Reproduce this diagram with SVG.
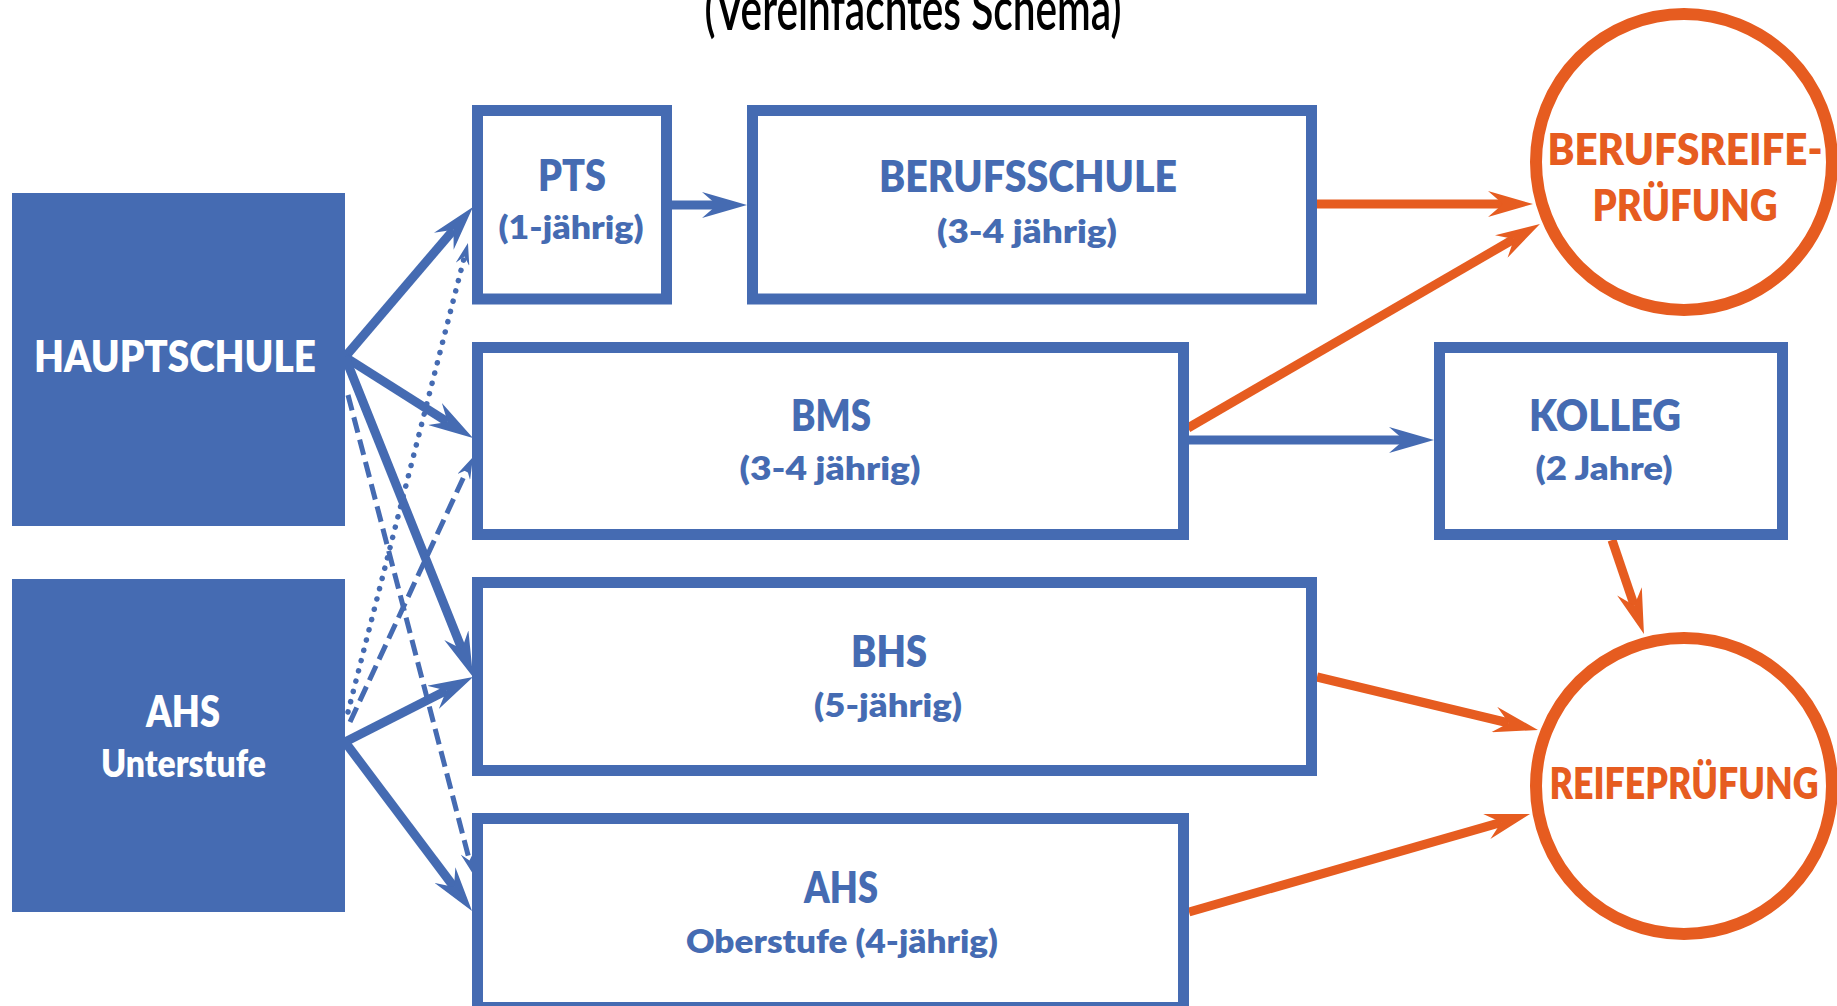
<svg xmlns="http://www.w3.org/2000/svg" width="1837" height="1006" viewBox="0 0 1837 1006">
<style>
.lbl{font-family:Lato,"Open Sans","Liberation Sans",sans-serif;font-weight:800;text-anchor:middle}
.blue{fill:#456BB2}
.white{fill:#ffffff}
.orange{fill:#E65C20}
.big{font-size:44px}
.sub{font-size:32px}
.box{fill:#ffffff;stroke:#456BB2;stroke-width:11}
.solid{fill:#456BB2}
.ring{fill:#ffffff;stroke:#E65C20;stroke-width:12}
.cb{stroke:#456BB2;stroke-width:9;fill:none}
.co{stroke:#E65C20;stroke-width:9;fill:none}
.dash{stroke:#456BB2;stroke-width:5;fill:none;stroke-dasharray:16 7}
.dot{stroke:#456BB2;stroke-width:5.5;fill:none;stroke-dasharray:0.1 10.5;stroke-linecap:round}
</style>
<defs>
<marker id="ab" markerUnits="userSpaceOnUse" orient="auto" refX="15" refY="13" markerWidth="45" markerHeight="26"><path d="M45,13 L0,0 L15,13 L0,26 Z" fill="#456BB2"/></marker>
<marker id="ao" markerUnits="userSpaceOnUse" orient="auto" refX="15" refY="13" markerWidth="45" markerHeight="26"><path d="M45,13 L0,0 L15,13 L0,26 Z" fill="#E65C20"/></marker>
<marker id="as" markerUnits="userSpaceOnUse" orient="auto" refX="8" refY="7" markerWidth="22" markerHeight="14"><path d="M22,7 L0,0 L8,7 L0,14 Z" fill="#456BB2"/></marker>
</defs>
<rect width="1837" height="1006" fill="#ffffff"/>
<text x="913" y="30" font-family="Lato,'Liberation Sans',sans-serif" font-size="60" font-weight="600" fill="#000" text-anchor="middle" textLength="417" lengthAdjust="spacingAndGlyphs">(Vereinfachtes  Schema)</text>

<g id="connectors">
<line class="cb" x1="345" y1="357" x2="453.5" y2="229.8" marker-end="url(#ab)"/>
<line class="cb" x1="345" y1="357" x2="447.6" y2="422" marker-end="url(#ab)"/>
<line class="cb" x1="345" y1="357" x2="461.9" y2="649.1" marker-end="url(#ab)"/>
<line class="cb" x1="345" y1="742" x2="446.3" y2="690.6" marker-end="url(#ab)"/>
<line class="cb" x1="345" y1="742" x2="454" y2="887" marker-end="url(#ab)"/>
<line class="cb" x1="672" y1="205" x2="717" y2="205" marker-end="url(#ab)"/>
<line class="cb" x1="1189" y1="440" x2="1404" y2="440" marker-end="url(#ab)"/>
<line class="dash" x1="348" y1="395" x2="469.5" y2="860.5" marker-end="url(#as)"/>
<line class="dash" x1="350" y1="722" x2="467.1" y2="469.7" marker-end="url(#as)"/>
<line class="dot" x1="348" y1="712" x2="464.5" y2="256.6" marker-end="url(#as)"/>
<line class="co" x1="1317" y1="204" x2="1503" y2="204" marker-end="url(#ao)"/>
<line class="co" x1="1188" y1="428" x2="1514" y2="239" marker-end="url(#ao)"/>
<line class="co" x1="1612" y1="540" x2="1634.3" y2="605.6" marker-end="url(#ao)"/>
<line class="co" x1="1317" y1="677" x2="1508.8" y2="723" marker-end="url(#ao)"/>
<line class="co" x1="1189" y1="912" x2="1501.2" y2="822.3" marker-end="url(#ao)"/>
</g>

<g id="hauptschule">
<rect class="solid" x="12" y="193" width="333" height="333"/>
<text class="lbl white big" x="175" y="372" font-size="46" textLength="282" lengthAdjust="spacingAndGlyphs">HAUPTSCHULE</text>
</g>
<g id="ahs-unterstufe">
<rect class="solid" x="12" y="579" width="333" height="333"/>
<text class="lbl white big" x="183" y="727" textLength="74" lengthAdjust="spacingAndGlyphs">AHS</text>
<text class="lbl white" x="183.5" y="777" font-size="37" textLength="165" lengthAdjust="spacingAndGlyphs">Unterstufe</text>
</g>
<g id="pts">
<rect class="box" x="477.5" y="110.5" width="189" height="188.5"/>
<text class="lbl blue big" x="572" y="191" textLength="68" lengthAdjust="spacingAndGlyphs">PTS</text>
<text class="lbl blue sub" x="571" y="239" textLength="145" lengthAdjust="spacingAndGlyphs">(1-jährig)</text>
</g>
<g id="berufsschule">
<rect class="box" x="752.5" y="110.5" width="559" height="188.5"/>
<text class="lbl blue big" x="1028" y="192" textLength="298" lengthAdjust="spacingAndGlyphs">BERUFSSCHULE</text>
<text class="lbl blue sub" x="1027" y="243" textLength="180" lengthAdjust="spacingAndGlyphs">(3-4 jährig)</text>
</g>
<g id="bms">
<rect class="box" x="477.5" y="347.5" width="706" height="187"/>
<text class="lbl blue big" x="831" y="431" textLength="80" lengthAdjust="spacingAndGlyphs">BMS</text>
<text class="lbl blue sub" x="830" y="480" textLength="181" lengthAdjust="spacingAndGlyphs">(3-4 jährig)</text>
</g>
<g id="kolleg">
<rect class="box" x="1439.5" y="347.5" width="343" height="187"/>
<text class="lbl blue big" x="1605" y="431" textLength="152" lengthAdjust="spacingAndGlyphs">KOLLEG</text>
<text class="lbl blue sub" x="1604" y="480" textLength="137" lengthAdjust="spacingAndGlyphs">(2 Jahre)</text>
</g>
<g id="bhs">
<rect class="box" x="477.5" y="582.5" width="834" height="188"/>
<text class="lbl blue big" x="889" y="667" textLength="76" lengthAdjust="spacingAndGlyphs">BHS</text>
<text class="lbl blue sub" x="888" y="717" textLength="148" lengthAdjust="spacingAndGlyphs">(5-jährig)</text>
</g>
<g id="ahs-oberstufe">
<rect class="box" x="477.5" y="818.5" width="706" height="189"/>
<text class="lbl blue big" x="841" y="903" textLength="74" lengthAdjust="spacingAndGlyphs">AHS</text>
<text class="lbl blue sub" x="842" y="953" textLength="312" lengthAdjust="spacingAndGlyphs">Oberstufe  (4-jährig)</text>
</g>
<g id="berufsreifepruefung">
<circle class="ring" cx="1684" cy="162" r="148"/>
<text class="lbl orange big" x="1685" y="165" textLength="275" lengthAdjust="spacingAndGlyphs">BERUFSREIFE-</text>
<text class="lbl orange big" x="1685" y="221" textLength="185" lengthAdjust="spacingAndGlyphs">PRÜFUNG</text>
</g>
<g id="reifepruefung">
<circle class="ring" cx="1684" cy="786" r="148"/>
<text class="lbl orange big" x="1684" y="799" textLength="269" lengthAdjust="spacingAndGlyphs">REIFEPRÜFUNG</text>
</g>
</svg>
